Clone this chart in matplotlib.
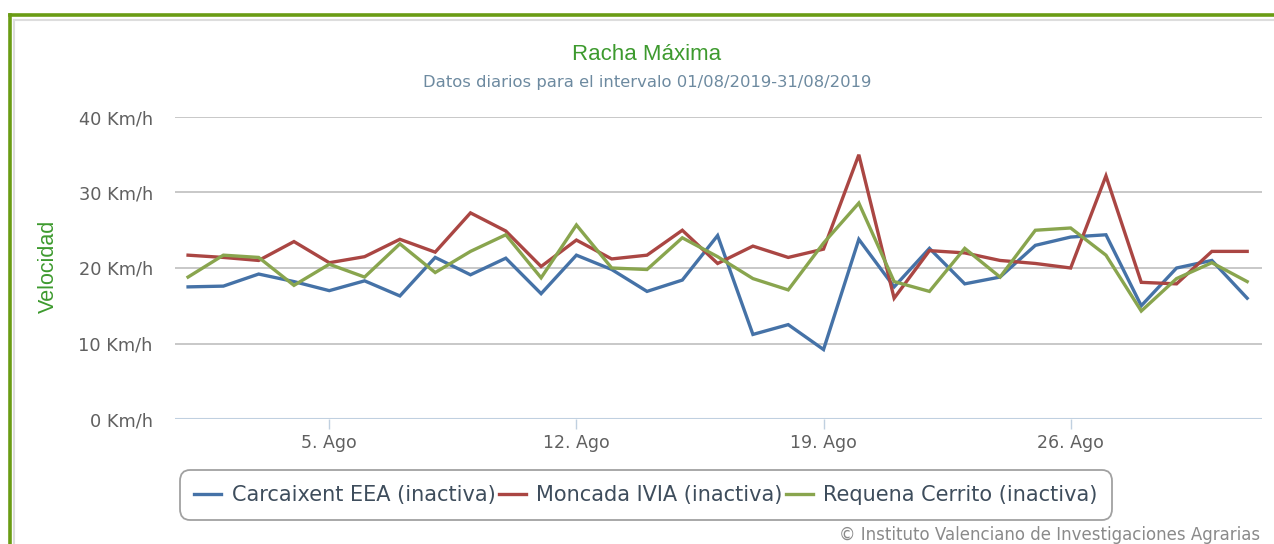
import matplotlib
matplotlib.use("Agg")
import matplotlib.pyplot as plt
from matplotlib.lines import Line2D

# daily max gusts, August 2019 (Km/h)
days = list(range(1, 32))
carcaixent = [17.5, 17.6, 19.2, 18.2, 17.0, 18.3, 16.3, 21.4, 19.1, 21.3,
              16.6, 21.7, 19.8, 16.9, 18.4, 24.3, 11.2, 12.5, 9.2, 23.8,
              17.5, 22.6, 17.9, 18.8, 23.0, 24.1, 24.4, 15.0, 20.0, 21.0, 16.0]
moncada = [21.7, 21.4, 21.0, 23.5, 20.7, 21.5, 23.8, 22.1, 27.3, 24.9,
           20.2, 23.7, 21.2, 21.7, 25.0, 20.6, 22.9, 21.4, 22.5, 35.0,
           16.0, 22.3, 22.0, 21.0, 20.6, 20.0, 32.2, 18.1, 17.9, 22.2, 22.2]
requena = [18.8, 21.7, 21.4, 17.7, 20.5, 18.8, 23.2, 19.4, 22.2, 24.4,
           18.7, 25.7, 20.0, 19.8, 24.0, 21.5, 18.6, 17.1, 23.3, 28.6,
           18.2, 16.9, 22.6, 18.8, 25.0, 25.3, 21.7, 14.3, 18.6, 20.7, 18.2]
names = ["Carcaixent EEA (inactiva)", "Moncada IVIA (inactiva)", "Requena Cerrito (inactiva)"]
colors = ["#4572A7", "#AA4643", "#89A54E"]

yticks = [0, 10, 20, 30, 40]
ytick_labels = ["0 Km/h", "10 Km/h", "20 Km/h", "30 Km/h", "40 Km/h"]
xticks = [5, 12, 19, 26]
xtick_labels = ["5. Ago", "12. Ago", "19. Ago", "26. Ago"]

W, H = 1274, 544
fig = plt.figure(figsize=(W / 100, H / 100), dpi=100)
ax = fig.add_axes([175 / W, 1 - 419 / H, (1262 - 175) / W, (419 - 117) / H])

for vals, name, c in zip([carcaixent, moncada, requena], names, colors):
    ax.plot(days, vals, color=c, lw=2.4, label=name, solid_joinstyle="miter")

ax.set_xlim(0.63, 31.42)
ax.set_ylim(0, 40)
ax.set_yticks(yticks)
ax.set_yticklabels(ytick_labels)
ax.set_xticks(xticks)
ax.set_xticklabels(xtick_labels)
for s in ax.spines.values():
    s.set_visible(False)
ax.grid(axis="y", color="#c8c8c8", lw=1.4)
ax.axhline(0, color="#c0d0e0", lw=1.5)
ax.set_axisbelow(True)
ax.tick_params(axis="y", length=0, pad=16, labelsize=12.8, labelcolor="#606060")
ax.tick_params(axis="x", length=7, width=1, color="#c0d0e0", pad=4,
               labelsize=12.5, labelcolor="#606060")

fig.text(48 / W, 1 - 266 / H, "Velocidad", rotation=90, ha="center", va="center",
         color="#3d9a2e", fontsize=15.5, family="Liberation Sans")
fig.text(647 / W, 1 - 55 / H, "Racha Máxima", ha="center", va="center",
         color="#3d9a2e", fontsize=16, family="Liberation Sans")
fig.text(647 / W, 1 - 83 / H, "Datos diarios para el intervalo 01/08/2019-31/08/2019",
         ha="center", va="center", color="#6d8aa0", fontsize=11.8)
fig.text(1260 / W, 1 - 535 / H, "© Instituto Valenciano de Investigaciones Agrarias",
         ha="right", va="center", color="#8a8a8a", fontsize=12)

leg = fig.legend(loc="center", bbox_to_anchor=(646 / W, 1 - 495 / H), ncol=3,
                 fontsize=15, frameon=True, fancybox=True, handlelength=1.3,
                 handletextpad=0.5, columnspacing=0.15, borderpad=0.7,
                 labelcolor="#3e4d5c")
leg.get_frame().set_edgecolor("#8a8a8a")
leg.get_frame().set_linewidth(1.3)
leg.get_frame().set_boxstyle("round,pad=0,rounding_size=0.5")

# page frame
fig.add_artist(Line2D([9.5 / W, 1], [1 - 14.5 / H] * 2, color="#6a9c14", lw=2.6,
                      transform=fig.transFigure))
fig.add_artist(Line2D([9.5 / W] * 2, [0, 1 - 14.5 / H], color="#6a9c14", lw=2.6,
                      transform=fig.transFigure))
fig.add_artist(Line2D([14 / W, 1], [1 - 20 / H] * 2, color="#dddddd", lw=1.5,
                      transform=fig.transFigure))
fig.add_artist(Line2D([14 / W] * 2, [0, 1 - 20 / H], color="#dddddd", lw=1.5,
                      transform=fig.transFigure))

fig.savefig("out.png", dpi=100)
